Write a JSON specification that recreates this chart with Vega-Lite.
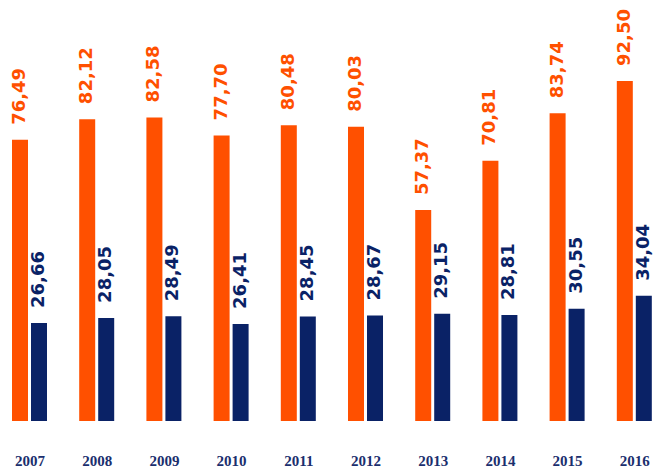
{
  "$schema": "https://vega.github.io/schema/vega-lite/v6.json",
  "width": 654,
  "height": 421,
  "autosize": {"type": "none"},
  "padding": {"left": 0, "top": 0, "right": 0, "bottom": 47},
  "config": {
    "view": {"stroke": null},
    "locale": {"number": {"decimal": ",", "thousands": ".", "grouping": [3], "currency": ["", " €"]}}
  },
  "data": {
    "values": [
      {"year": 2007, "v1": 76.49, "v2": 26.66},
      {"year": 2008, "v1": 82.12, "v2": 28.05},
      {"year": 2009, "v1": 82.58, "v2": 28.49},
      {"year": 2010, "v1": 77.70, "v2": 26.41},
      {"year": 2011, "v1": 80.48, "v2": 28.45},
      {"year": 2012, "v1": 80.03, "v2": 28.67},
      {"year": 2013, "v1": 57.37, "v2": 29.15},
      {"year": 2014, "v1": 70.81, "v2": 28.81},
      {"year": 2015, "v1": 83.74, "v2": 30.55},
      {"year": 2016, "v1": 92.50, "v2": 34.04}
    ]
  },
  "encoding": {
    "x": {
      "field": "year",
      "type": "quantitative",
      "scale": {"domain": [2006.561, 2016.293], "nice": false, "zero": false, "padding": 0},
      "axis": {
        "values": [2007, 2008, 2009, 2010, 2011, 2012, 2013, 2014, 2015, 2016],
        "format": "d",
        "domain": false,
        "ticks": false,
        "grid": false,
        "labelPadding": 32,
        "labelFont": "Liberation Serif",
        "labelFontWeight": "bold",
        "labelFontSize": 15,
        "labelColor": "#1B2F6E",
        "labelFlush": false,
        "labelOverlap": false,
        "title": null
      }
    }
  },
  "layer": [
    {
      "mark": {"type": "bar", "width": 16, "xOffset": -9.5, "color": "#FF5000"},
      "encoding": {
        "y": {"field": "v1", "type": "quantitative", "scale": {"domain": [0, 114.53], "nice": false}, "axis": null}
      }
    },
    {
      "mark": {"type": "text", "angle": 270, "align": "left", "baseline": "middle", "dx": 15, "xOffset": -9.5, "font": "DejaVu Sans", "fontWeight": "bold", "fontSize": 18, "color": "#FF5000"},
      "encoding": {
        "y": {"field": "v1", "type": "quantitative", "scale": {"domain": [0, 114.53], "nice": false}, "axis": null},
        "text": {"field": "v1", "type": "quantitative", "format": ".2f"}
      }
    },
    {
      "mark": {"type": "bar", "width": 16, "xOffset": 9.5, "color": "#0A2266"},
      "encoding": {
        "y": {"field": "v2", "type": "quantitative", "scale": {"domain": [0, 114.53], "nice": false}, "axis": null}
      }
    },
    {
      "mark": {"type": "text", "angle": 270, "align": "left", "baseline": "middle", "dx": 15, "xOffset": 9.5, "font": "DejaVu Sans", "fontWeight": "bold", "fontSize": 18, "color": "#0A2266"},
      "encoding": {
        "y": {"field": "v2", "type": "quantitative", "scale": {"domain": [0, 114.53], "nice": false}, "axis": null},
        "text": {"field": "v2", "type": "quantitative", "format": ".2f"}
      }
    }
  ]
}
